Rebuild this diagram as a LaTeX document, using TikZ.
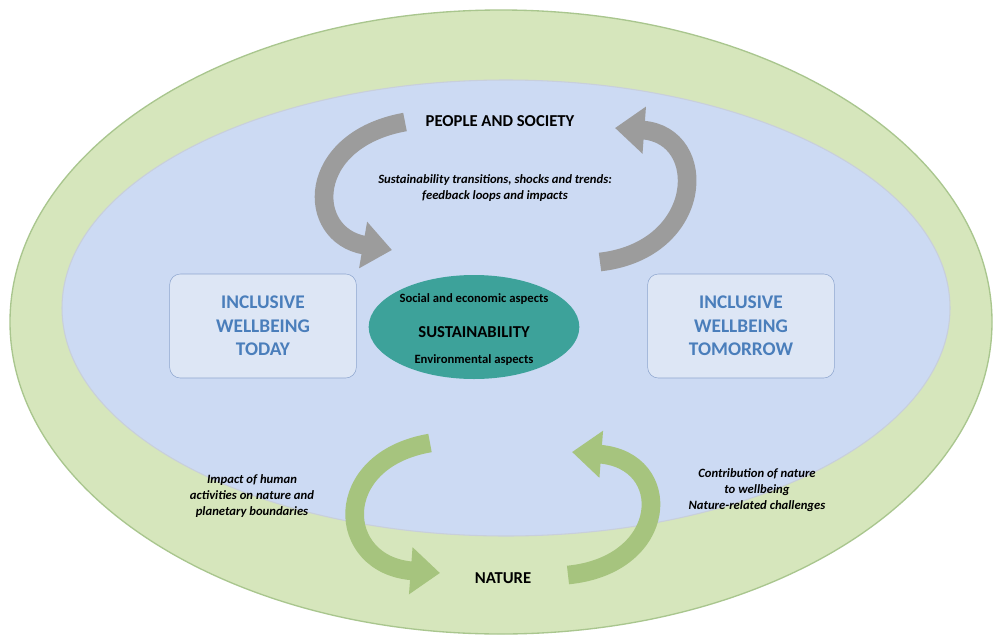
\documentclass[tikz,border=0pt]{standalone}
\usepackage{fontspec}
\setmainfont{Carlito}
\usetikzlibrary{arrows.meta,shapes.geometric}
\definecolor{outerg}{HTML}{D6E6BC}
\definecolor{outerb}{HTML}{A9C68E}
\definecolor{innerb}{HTML}{CCDAF3}
\definecolor{boxf}{HTML}{DDE6F5}
\definecolor{boxd}{HTML}{8EA6CF}
\definecolor{boxt}{HTML}{4A7EBB}
\definecolor{teal}{HTML}{3DA29A}
\definecolor{garr}{HTML}{9C9C9C}
\definecolor{narr}{HTML}{A6C47E}
\tikzset{
 wbox/.style={draw=boxd,fill=boxf,rounded corners=8pt,minimum width=140pt,minimum height=78pt,align=center,text=boxt,font=\fontsize{14.5}{17.5}\selectfont\bfseries},
 bigarr/.style={line width=14pt,-{Triangle[width=34pt,length=22pt]}},
 lab/.style={font=\fontsize{9.5}{12}\selectfont\bfseries\itshape,align=center},
 ttl/.style={font=\fontsize{12.5}{14}\selectfont\bfseries}
}
\begin{document}
\begin{tikzpicture}[x=0.75pt,y=-0.75pt]
\useasboundingbox (0,0) rectangle (1003,643);
\fill[white] (0,0) rectangle (1003,643);
\draw[outerb,fill=outerg,line width=1pt] (501,322) ellipse [x radius=491, y radius=312];
\draw[innerb!80!black!60,fill=innerb,line width=0.8pt] (506,308) ellipse [x radius=444, y radius=228];
\node[wbox] (today) at (263,326) {INCLUSIVE\\WELLBEING\\TODAY};
\node[wbox] (tomorrow) at (741,326) {INCLUSIVE\\WELLBEING\\TOMORROW};
\node[ellipse,fill=teal,minimum width=158pt,minimum height=78pt] (sus) at (474,327) {};
\node[font=\fontsize{9.5}{11}\selectfont\bfseries] (sea) at (474,299) {Social and economic aspects};
\node[ttl] (sname) at (474,332) {SUSTAINABILITY};
\node[font=\fontsize{9.5}{11}\selectfont\bfseries] (env) at (474,360) {Environmental aspects};
\node[ttl] (people) at (500,121) {PEOPLE AND SOCIETY};
\node[lab] (trans) at (495,188) {Sustainability transitions, shocks and trends:\\feedback loops and impacts};
\node[ttl] (nature) at (503,578) {NATURE};
\node[lab] (impact) at (252,496) {Impact of human\\activities on nature and\\planetary boundaries};
\node[lab] (contrib) at (757,490) {Contribution of nature\\to wellbeing\\Nature-related challenges};
% gray arrows
\coordinate (g1s) at (405,122); \coordinate (g1e) at (392,250);
\draw[bigarr,garr] (g1s) .. controls (305,140) and (305,235) .. (g1e);
\coordinate (g2s) at (600,262); \coordinate (g2e) at (615,128);
\draw[bigarr,garr] (g2s) .. controls (705,250) and (710,135) .. (g2e);
% green arrows
\coordinate (n1s) at (430,443); \coordinate (n1e) at (440,573);
\draw[bigarr,narr] (n1s) .. controls (330,460) and (335,565) .. (n1e);
\coordinate (n2s) at (568,575); \coordinate (n2e) at (572,452);
\draw[bigarr,narr] (n2s) .. controls (670,565) and (675,460) .. (n2e);
\end{tikzpicture}
\end{document}
